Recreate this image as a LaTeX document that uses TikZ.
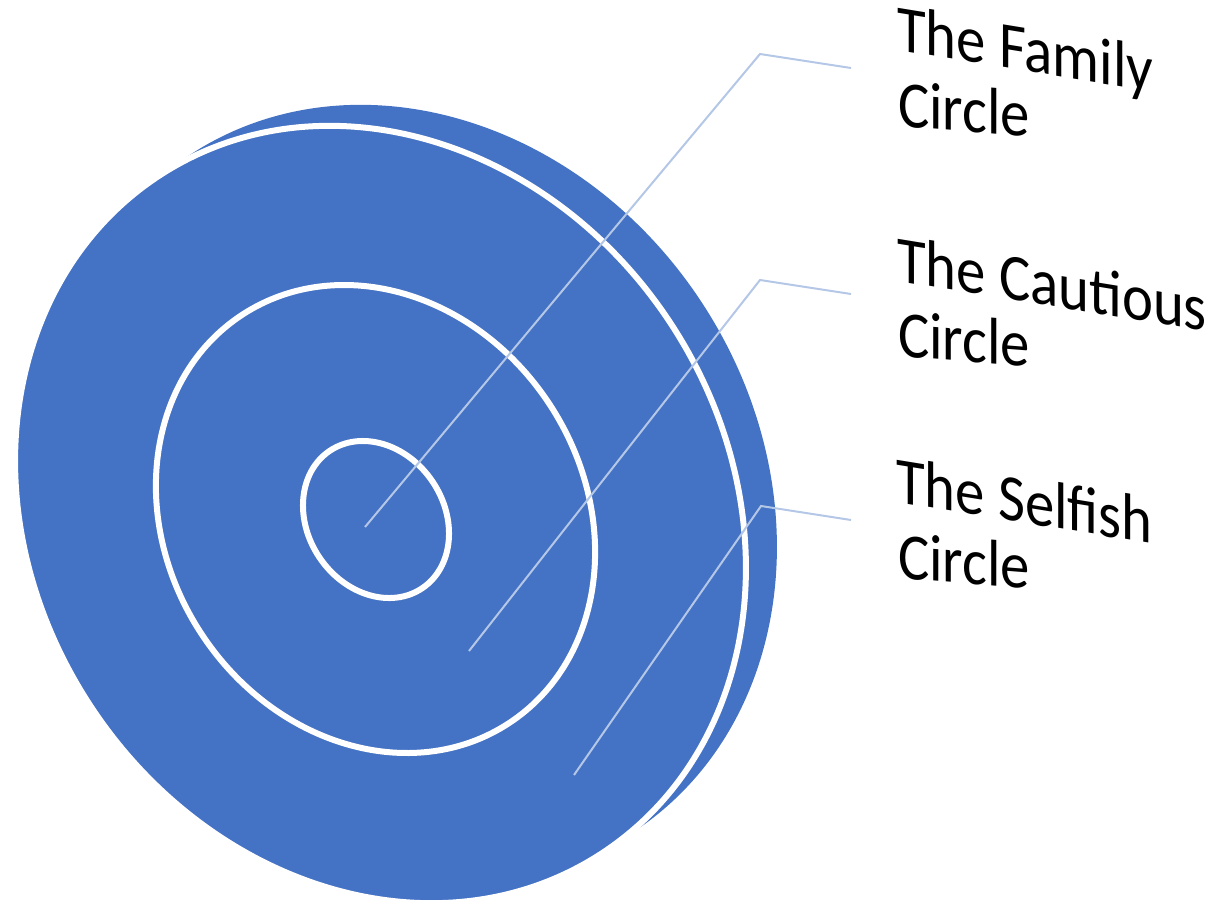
\documentclass[tikz,border=0pt]{standalone}
\usepackage{fontspec}
\setmainfont{Carlito}
\definecolor{discblue}{HTML}{4472C4}
\definecolor{leader}{HTML}{B4C7E7}
\begin{document}
\begin{tikzpicture}[x=1pt,y=1pt,
  disc/.style={fill=discblue},
  ring/.style={draw=white,line width=6pt},
  leaderline/.style={draw=leader,line width=2pt,line join=miter},
  lblA/.style={anchor=base west,inner sep=0pt,font=\fontsize{66}{76}\selectfont,xscale=0.89,yslant=-0.145},
  lblB/.style={anchor=base west,inner sep=0pt,font=\fontsize{66}{76}\selectfont,xscale=0.89,yslant=-0.07}]
\useasboundingbox (0,0) rectangle (1219,-905);
% centres
\coordinate (cb) at (411.5,-493.5);
\coordinate (cf) at (380.5,-514.5);
\coordinate (cm) at (375.5,-519);
\coordinate (cs) at (376,-519.5);
% back face (side of the disc)
\fill[disc, rotate around={-57:(cb)}] (cb) ellipse [x radius=404.7, y radius=347.5];
% front face
\path[disc, ring, rotate around={-57:(cf)}] (cf) ellipse [x radius=404.7, y radius=347.5];
% inner rings
\draw[ring, rotate around={-57:(cm)}] (cm) ellipse [x radius=243.9, y radius=208.5];
\draw[ring, rotate around={-56:(cs)}] (cs) ellipse [x radius=82.8, y radius=68.1];
% leader points
\coordinate (famP) at (365,-527);
\coordinate (famE) at (760,-54);
\coordinate (famT) at (851,-68);
\coordinate (cauP) at (469,-651);
\coordinate (cauE) at (760,-280);
\coordinate (cauT) at (851,-294);
\coordinate (selP) at (574,-775);
\coordinate (selE) at (761,-506);
\coordinate (selT) at (851,-520);
\draw[leaderline] (famP) -- (famE) -- (famT);
\draw[leaderline] (cauP) -- (cauE) -- (cauT);
\draw[leaderline] (selP) -- (selE) -- (selT);
% labels
\node[lblA] (fam1) at (897,-50) {The Family};
\node[lblB] (fam2) at (898,-126) {Circle};
\node[lblA] (cau1) at (897,-281) {The Cautious};
\node[lblB] (cau2) at (898,-356) {Circle};
\node[lblA] (sel1) at (896,-502) {The Selfish};
\node[lblB] (sel2) at (898,-578) {Circle};
\end{tikzpicture}
\end{document}
